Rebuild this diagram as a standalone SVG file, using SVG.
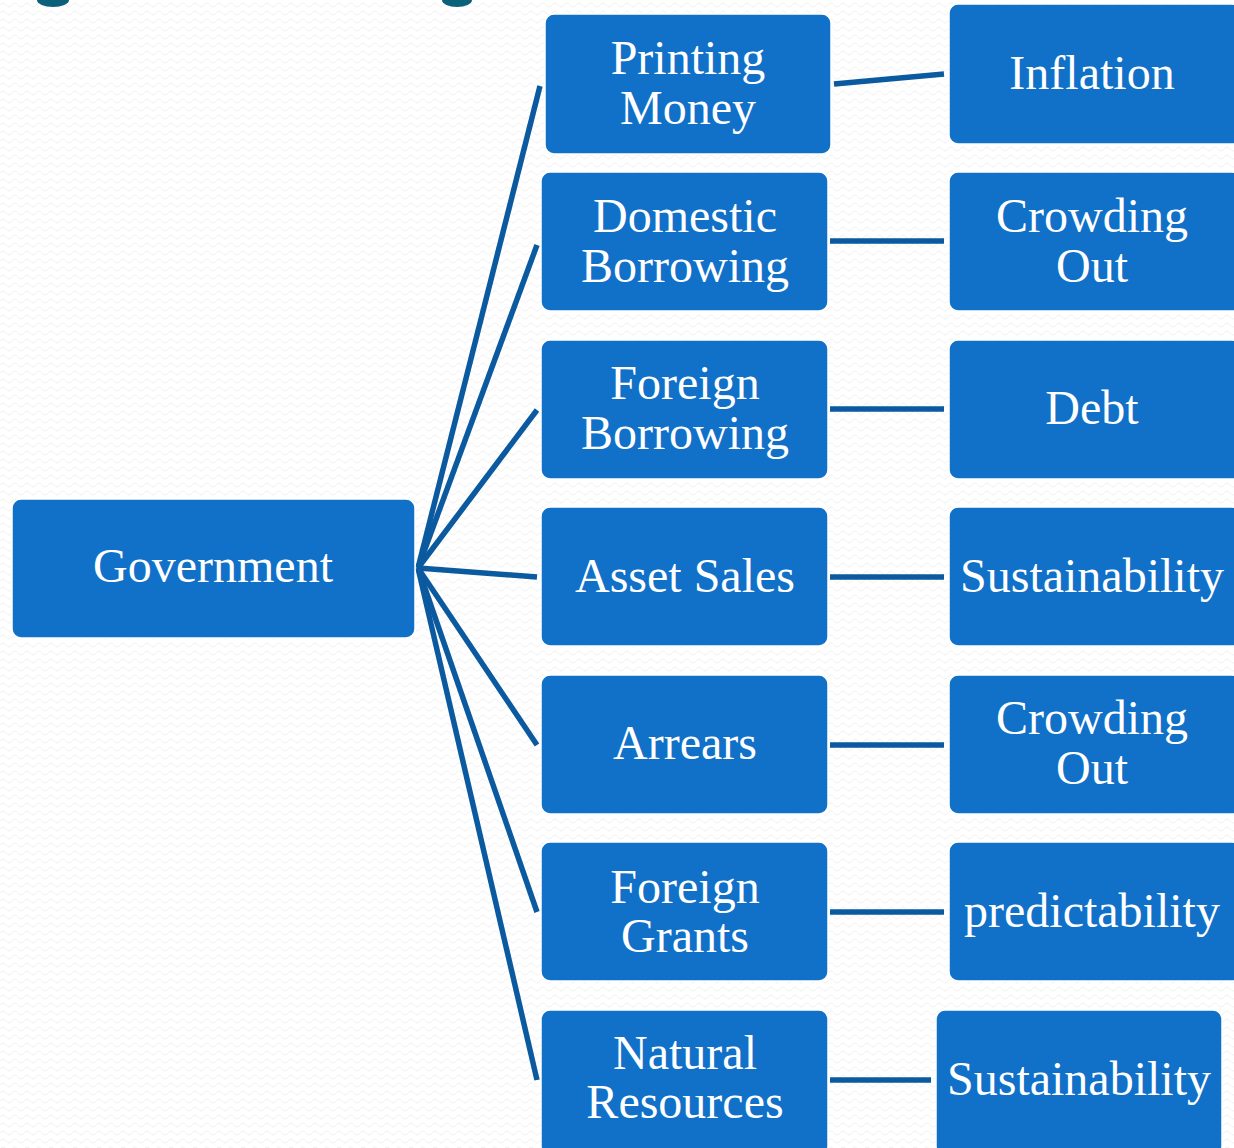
<svg xmlns="http://www.w3.org/2000/svg" width="1234" height="1148" viewBox="0 0 1234 1148">
<defs>
<pattern id="bg" width="12" height="8" patternUnits="userSpaceOnUse">
<path d="M0 5 Q3 1 6 5 T12 5" fill="none" stroke="#f0f0f0" stroke-width="1"/>
</pattern>
</defs>
<style>
.box{fill:#1170c8;stroke:#ffffff;stroke-width:1.5}
.t{font-family:"Liberation Serif","DejaVu Serif",serif;font-size:48px;fill:#ffffff;text-anchor:middle}
.c{stroke:#0b5aa0;stroke-width:5.5;fill:none;stroke-linecap:butt}
</style>
<rect width="1234" height="1148" fill="#ffffff"/>
<rect width="1234" height="1148" fill="url(#bg)"/>
<ellipse cx="53" cy="0" rx="16" ry="7" fill="#0b6179"/>
<ellipse cx="457" cy="0" rx="15" ry="7" fill="#0b6179"/>
<g id="connectors">
<line class="c" x1="418" y1="568" x2="540" y2="86"/>
<line class="c" x1="418" y1="568" x2="537" y2="245"/>
<line class="c" x1="418" y1="568" x2="537" y2="410"/>
<line class="c" x1="418" y1="568" x2="537" y2="577"/>
<line class="c" x1="418" y1="568" x2="537" y2="745"/>
<line class="c" x1="418" y1="568" x2="537" y2="912"/>
<line class="c" x1="418" y1="568" x2="537" y2="1080"/>
<line class="c" x1="834" y1="84" x2="944" y2="74"/>
<line class="c" x1="830" y1="241" x2="944" y2="241"/>
<line class="c" x1="830" y1="409" x2="944" y2="409"/>
<line class="c" x1="830" y1="577" x2="944" y2="577"/>
<line class="c" x1="830" y1="745" x2="944" y2="745"/>
<line class="c" x1="830" y1="912" x2="944" y2="912"/>
<line class="c" x1="830" y1="1080" x2="931" y2="1080"/>
</g>
<g id="government"><rect class="box" x="12" y="499" width="403" height="139" rx="9"/><text class="t" x="213" y="582">Government</text></g>
<g id="printing-money"><rect class="box" x="545" y="14" width="286" height="140" rx="9"/><text class="t" x="688" y="74">Printing</text><text class="t" x="688" y="124">Money</text></g>
<g id="domestic-borrowing"><rect class="box" x="541" y="172" width="287" height="139" rx="9"/><text class="t" x="685" y="232">Domestic</text><text class="t" x="685" y="282">Borrowing</text></g>
<g id="foreign-borrowing"><rect class="box" x="541" y="340" width="287" height="139" rx="9"/><text class="t" x="685" y="399">Foreign</text><text class="t" x="685" y="449">Borrowing</text></g>
<g id="asset-sales"><rect class="box" x="541" y="507" width="287" height="139" rx="9"/><text class="t" x="685" y="592">Asset Sales</text></g>
<g id="arrears"><rect class="box" x="541" y="675" width="287" height="139" rx="9"/><text class="t" x="685" y="759">Arrears</text></g>
<g id="foreign-grants"><rect class="box" x="541" y="842" width="287" height="139" rx="9"/><text class="t" x="685" y="903">Foreign</text><text class="t" x="685" y="952">Grants</text></g>
<g id="natural-resources"><rect class="box" x="541" y="1010" width="287" height="145" rx="9"/><text class="t" x="685" y="1069">Natural</text><text class="t" x="685" y="1118">Resources</text></g>
<g id="inflation"><rect class="box" x="949" y="4" width="292" height="140" rx="9"/><text class="t" x="1092" y="89">Inflation</text></g>
<g id="crowding-out-1"><rect class="box" x="949" y="172" width="292" height="139" rx="9"/><text class="t" x="1092" y="232">Crowding</text><text class="t" x="1092" y="282">Out</text></g>
<g id="debt"><rect class="box" x="949" y="340" width="292" height="139" rx="9"/><text class="t" x="1092" y="424">Debt</text></g>
<g id="sustainability-1"><rect class="box" x="949" y="507" width="292" height="139" rx="9"/><text class="t" x="1092" y="592">Sustainability</text></g>
<g id="crowding-out-2"><rect class="box" x="949" y="675" width="292" height="139" rx="9"/><text class="t" x="1092" y="734">Crowding</text><text class="t" x="1092" y="784">Out</text></g>
<g id="predictability"><rect class="box" x="949" y="842" width="292" height="139" rx="9"/><text class="t" x="1092" y="927">predictability</text></g>
<g id="sustainability-2"><rect class="box" x="936" y="1010" width="286" height="145" rx="9"/><text class="t" x="1079" y="1095">Sustainability</text></g>
</svg>
